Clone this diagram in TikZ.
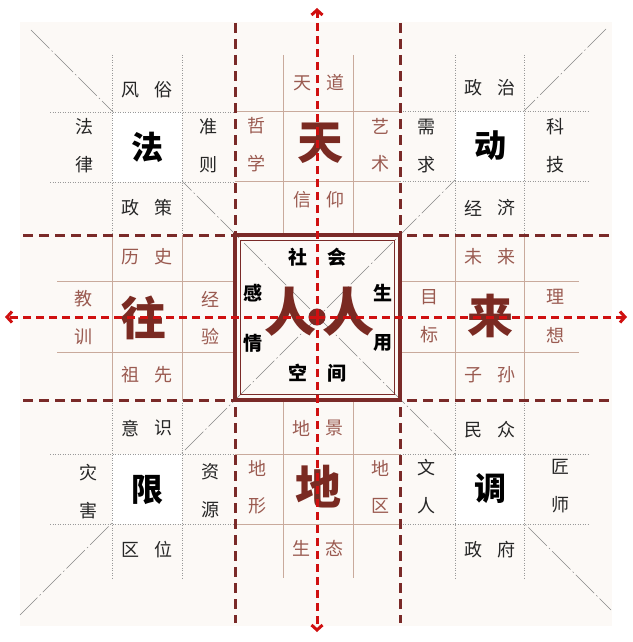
\documentclass[tikz,border=0pt]{standalone}
\usepackage{fontspec}
\newfontfamily\cjk{Noto Sans CJK SC}
\usetikzlibrary{arrows.meta}
\definecolor{bgc}{HTML}{FCF9F6}
\definecolor{darkred}{HTML}{7A2A28}
\definecolor{axisred}{HTML}{D01010}
\definecolor{edgetext}{HTML}{9A5A50}
\definecolor{edgebig}{HTML}{7A2A22}
\definecolor{cornertext}{HTML}{262626}
\definecolor{gridbrown}{HTML}{C9AA9C}
\definecolor{dotgray}{HTML}{999999}
\definecolor{diaggray}{HTML}{888888}
\tikzset{
  sm/.style={font=\cjk\fontsize{18}{18}\selectfont, text=cornertext, inner sep=0pt},
  esm/.style={sm, text=edgetext},
  bigc/.style={font=\cjk\bfseries\fontsize{32}{32}\selectfont, text=black, inner sep=0pt},
  bige/.style={font=\cjk\bfseries\fontsize{46}{46}\selectfont, text=edgebig, inner sep=0pt},
  ctr/.style={font=\cjk\bfseries\fontsize{19}{19}\selectfont, text=black, inner sep=0pt},
  ren/.style={font=\cjk\bfseries\fontsize{52}{52}\selectfont, text=edgebig, inner sep=0pt},
  solidgrid/.style={draw=gridbrown, line width=0.8pt},
  dotgrid/.style={draw=dotgray, line width=0.6pt, dash pattern=on 1pt off 1.5pt},
  diag/.style={draw=diaggray, line width=0.6pt, dash pattern=on 26pt off 3pt on 1.5pt off 3pt},
  darkdash/.style={draw=darkred, line width=3pt, dash pattern=on 10pt off 6pt},
  axis/.style={draw=axisred, line width=3pt, dash pattern=on 8pt off 5pt, -{Straight Barb[length=5pt,width=11pt]}},
  whitecell/.style={fill=white, draw=none},
}
\newcommand\hduo[6]{\node[#1] (#2a) at ({#3-16.5},#4) {#5}; \node[#1] (#2b) at ({#3+16.5},#4) {#6};}
\newcommand\vduo[6]{\node[#1] (#2a) at (#3,{#4-19}) {#5}; \node[#1] (#2b) at (#3,{#4+19}) {#6};}
\begin{document}
\begin{tikzpicture}[x=1pt,y=-1pt]
\useasboundingbox (0,0) rectangle (632,642);
\fill[white] (0,0) rectangle (632,642);
\fill[bgc] (20,22) rectangle (612,626);
% diagonals
\coordinate (d1s) at (31,30); \coordinate (d1e) at (611,610);
\coordinate (d2s) at (606,29); \coordinate (d2e) at (20,615);
\draw[diag] (d1s) -- (d1e);
\draw[diag] (d2s) -- (d2e);
% white centre cells of corner grids
\fill[whitecell] (112,112) rectangle (182,182);
\fill[whitecell] (455,111) rectangle (524,181);
\fill[whitecell] (112,454) rectangle (182,524);
\fill[whitecell] (455,454) rectangle (524,524);
% corner dotted grids
\draw[dotgrid] (50,112) -- (235,112) (50,182) -- (235,182) (112,55) -- (112,235) (182,55) -- (182,235);
\draw[dotgrid] (400,111) -- (589,111) (400,181) -- (589,181) (455,55) -- (455,235) (524,55) -- (524,235);
\draw[dotgrid] (50,454) -- (235,454) (50,524) -- (235,524) (112,400) -- (112,578) (182,400) -- (182,578);
\draw[dotgrid] (400,454) -- (589,454) (400,524) -- (589,524) (455,400) -- (455,578) (524,400) -- (524,578);
% edge solid grids
\draw[solidgrid] (283,55) -- (283,235) (353,55) -- (353,235) (235,111) -- (400,111) (235,181) -- (400,181);
\draw[solidgrid] (283,400) -- (283,578) (353,400) -- (353,578) (235,454) -- (400,454) (235,524) -- (400,524);
\draw[solidgrid] (57,281) -- (235,281) (57,352) -- (235,352) (112,235) -- (112,400) (182,235) -- (182,400);
\draw[solidgrid] (400,281) -- (579,281) (400,352) -- (579,352) (455,235) -- (455,400) (524,235) -- (524,400);
% dark dashed lines
\coordinate (v1t) at (235,23); \coordinate (v1b) at (235,623);
\coordinate (v2t) at (400,23); \coordinate (v2b) at (400,623);
\coordinate (h1l) at (23,235); \coordinate (h1r) at (612,235);
\coordinate (h2l) at (23,400); \coordinate (h2r) at (612,400);
\draw[darkdash] (v1t) -- (v1b);
\draw[darkdash] (v2t) -- (v2b);
\draw[darkdash] (h1l) -- (h1r);
\draw[darkdash] (h2l) -- (h2r);
% centre box
\draw[darkred, line width=3.2pt] (235,235) rectangle (400,400);
\draw[darkred, line width=1.4pt] (240.5,240.5) rectangle (394.5,394.5);
% corner texts
\hduo{sm}{fs}{147}{90}{风}{俗}
\vduo{sm}{fl}{84}{146}{法}{律}
\vduo{sm}{zz}{208}{146}{准}{则}
\hduo{sm}{zc}{147}{208}{政}{策}
\node[bigc] (fa) at (147,147) {法};
\hduo{sm}{zzh}{490}{88}{政}{治}
\vduo{sm}{xq}{426}{146}{需}{求}
\vduo{sm}{kj}{555}{146}{科}{技}
\hduo{sm}{jj}{490}{208}{经}{济}
\node[bigc] (dong) at (490,146) {动};
\hduo{sm}{ys}{147}{428}{意}{识}
\vduo{sm}{zh}{88}{492}{灾}{害}
\vduo{sm}{zy}{210}{491}{资}{源}
\hduo{sm}{qw}{147}{550}{区}{位}
\node[bigc] (xian) at (147,490) {限};
\hduo{sm}{mz}{490}{430}{民}{众}
\vduo{sm}{wr}{426}{487}{文}{人}
\vduo{sm}{js}{560}{486}{匠}{师}
\hduo{sm}{zf}{490}{550}{政}{府}
\node[bigc] (tiao) at (490,488) {调};
% edge texts
\hduo{esm}{td}{319}{83}{天}{道}
\vduo{esm}{zx}{256}{145}{哲}{学}
\vduo{esm}{ysh}{380}{145}{艺}{术}
\hduo{esm}{xy}{319}{200}{信}{仰}
\node[bige] (tian) at (320,143) {天};
\hduo{esm}{dj}{318}{428}{地}{景}
\vduo{esm}{dx}{257}{487}{地}{形}
\vduo{esm}{dq}{380}{487}{地}{区}
\hduo{esm}{st}{318}{548}{生}{态}
\node[bige] (di) at (318,487) {地};
\hduo{esm}{ls}{147}{257}{历}{史}
\vduo{esm}{jx}{83}{318}{教}{训}
\vduo{esm}{jy}{210}{318}{经}{验}
\hduo{esm}{zxn}{147}{375}{祖}{先}
\node[bige] (wang) at (143,318) {往};
\hduo{esm}{wl}{490}{257}{未}{来}
\vduo{esm}{mb}{429}{316}{目}{标}
\vduo{esm}{lx}{555}{316}{理}{想}
\hduo{esm}{zs}{490}{375}{子}{孙}
\node[bige] (lai) at (490,316) {来};
% centre texts
\node[ctr] (she) at (298,257) {社};
\node[ctr] (hui) at (337,257) {会};
\node[ctr] (gan) at (253,293) {感};
\node[ctr] (qing) at (253,343) {情};
\node[ctr] (sheng) at (383,293) {生};
\node[ctr] (yong) at (383,343) {用};
\node[ctr] (kong) at (298,373) {空};
\node[ctr] (jian) at (337,373) {间};
\node[ren] (ren1) at (290,312) {人};
\node[ren] (ren2) at (348,312) {人};
% centre dot
\node[circle, fill=edgebig, draw=darkred, line width=1pt, minimum size=16pt, inner sep=0pt] (dot) at (317,317) {};
% axes
\coordinate (ax1) at (317,317); \coordinate (axt) at (317,8); \coordinate (axb) at (317,632);
\coordinate (axl) at (5,317); \coordinate (axr) at (627,317);
\draw[axis] (ax1) -- (axt);
\draw[axis] (ax1) -- (axb);
\draw[axis] (ax1) -- (axl);
\draw[axis] (ax1) -- (axr);
\end{tikzpicture}
\end{document}
